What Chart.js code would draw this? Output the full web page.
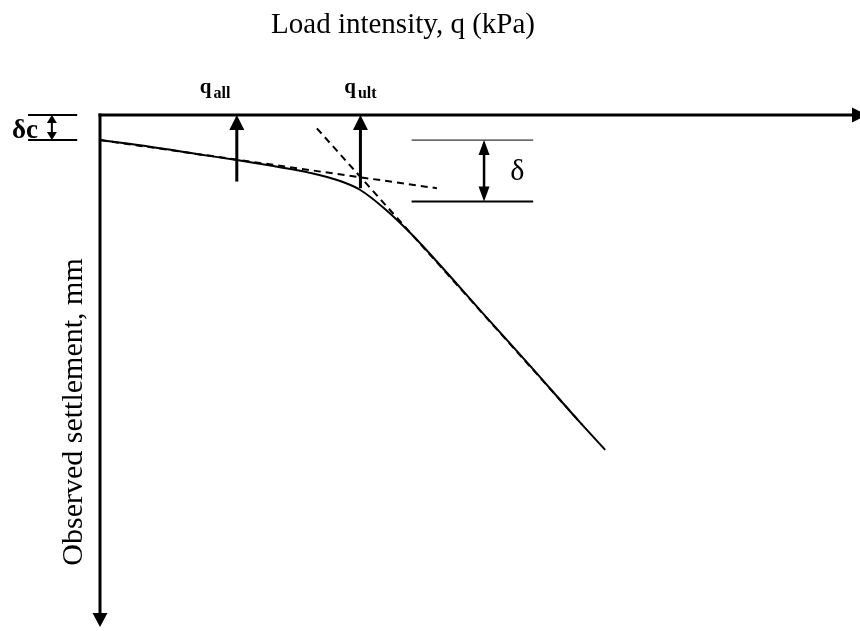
<!DOCTYPE html>
<html>
<head>
<meta charset="utf-8">
<title>Plate load test - settlement curve</title>
<script src="https://cdn.jsdelivr.net/npm/chart.js@4/dist/chart.umd.min.js"></script>
<style>
  html, body { margin: 0; padding: 0; background: #fff; }
  canvas { display: block; }
</style>
</head>
<body>
<canvas id="loadSettlement" width="860" height="631" style="width:860px;height:631px"></canvas>
<script>
// load-settlement curve (q in kPa, settlement in mm, schematic)
const loadQ = [0, 9.9, 19.7, 27.6, 35.5, 41.4, 47.4, 51.3, 56.3, 61.6, 67.1, 75.0, 84.9, 94.7, 99.7];
const settlement = [4.9, 6.2, 7.7, 8.9, 10.2, 11.3, 12.9, 14.6, 18.4, 23.4, 29.3, 38.1, 49.0, 60.0, 65.4];

// tangent to the initial part and to the final straight part
const initialTangentQ = [0, 66.5];
const initialTangentS = [4.9, 14.3];
const finalTangentQ = [42.8, 95.1];
const finalTangentS = [2.6, 60.4];

// q_all / q_ult markers: load and depth of arrow tail
const markerNames = ['all', 'ult'];
const markerQ = [27.0, 51.4];
const markerDepth = [13.0, 14.3];

// delta bracket (right) and delta-c bracket (left of the axis)
const deltaLevels = [4.9, 16.9];
const deltaSpanQ = [61.5, 85.5];
const deltaArrowQ = 75.8;
const deltaCLevels = [0, 4.9];
const deltaCSpanQ = [-14.2, -4.5];
const deltaCArrowQ = -9.5;

const toPoints = (xs, ys) => xs.map((x, i) => ({ x: x, y: ys[i] }));
const SERIF = "'Liberation Serif', 'Times New Roman', serif";

function arrowHead(ctx, x, y, dir, len, half) {
  // dir: 'up' | 'down' | 'right', tip at (x, y)
  ctx.beginPath();
  if (dir === 'up') {
    ctx.moveTo(x, y); ctx.lineTo(x - half, y + len); ctx.lineTo(x + half, y + len);
  } else if (dir === 'down') {
    ctx.moveTo(x, y); ctx.lineTo(x - half, y - len); ctx.lineTo(x + half, y - len);
  } else {
    ctx.moveTo(x, y); ctx.lineTo(x - len, y - half); ctx.lineTo(x - len, y + half);
  }
  ctx.closePath();
  ctx.fill();
}

function line(ctx, x1, y1, x2, y2, w) {
  ctx.lineWidth = w;
  ctx.beginPath();
  ctx.moveTo(x1, y1);
  ctx.lineTo(x2, y2);
  ctx.stroke();
}

const sketchPlugin = {
  id: 'sketch',
  afterDatasetsDraw(chart) {
    const ctx = chart.ctx;
    const xs = chart.scales.x, ys = chart.scales.y;
    const area = chart.chartArea;
    const x0 = xs.getPixelForValue(0), y0 = ys.getPixelForValue(0);
    ctx.save();
    ctx.fillStyle = '#000';
    ctx.strokeStyle = '#000';
    ctx.setLineDash([]);

    // axes with arrows
    line(ctx, x0 - 1.5, y0, area.right - 8, y0, 3);
    arrowHead(ctx, area.right + 7, y0, 'right', 15, 7.5);
    line(ctx, x0, y0 - 1.5, x0, area.bottom - 12, 3);
    arrowHead(ctx, x0, area.bottom, 'down', 14, 7.5);

    // q_all and q_ult arrows
    markerQ.forEach((q, i) => {
      const px = xs.getPixelForValue(q);
      line(ctx, px, ys.getPixelForValue(markerDepth[i]), px, y0 + 12, 3);
      arrowHead(ctx, px, y0, 'up', 15, 7.5);
      const qBase = y0 - 22;
      ctx.font = 'bold 21px ' + SERIF;
      const qw = ctx.measureText('q').width;
      ctx.font = 'bold 16px ' + SERIF;
      const sw = ctx.measureText(markerNames[i]).width;
      const total = qw + 2 + sw;
      const left = i === 0 ? px - 37 : px - total / 2;
      ctx.textAlign = 'left';
      ctx.textBaseline = 'alphabetic';
      ctx.font = 'bold 21px ' + SERIF;
      ctx.fillText('q', left, qBase);
      ctx.font = 'bold 16px ' + SERIF;
      ctx.fillText(markerNames[i], left + qw + 2, qBase + 5);
    });

    // delta bracket
    const dTop = ys.getPixelForValue(deltaLevels[0]);
    const dBot = ys.getPixelForValue(deltaLevels[1]);
    const dL = xs.getPixelForValue(deltaSpanQ[0]), dR = xs.getPixelForValue(deltaSpanQ[1]);
    line(ctx, dL, dTop, dR, dTop, 1);
    line(ctx, dL, dBot, dR, dBot, 2);
    const dx = xs.getPixelForValue(deltaArrowQ);
    line(ctx, dx, dTop + 12, dx, dBot - 12, 2.5);
    arrowHead(ctx, dx, dTop, 'up', 15, 5.5);
    arrowHead(ctx, dx, dBot, 'down', 15, 5.5);
    ctx.font = '30px ' + SERIF;
    ctx.textAlign = 'center';
    ctx.fillText('\u03b4', dR - 16, dTop + 40);

    // delta-c bracket
    const cTop = ys.getPixelForValue(deltaCLevels[0]);
    const cBot = ys.getPixelForValue(deltaCLevels[1]);
    const cL = xs.getPixelForValue(deltaCSpanQ[0]), cR = xs.getPixelForValue(deltaCSpanQ[1]);
    line(ctx, cL, cTop, cR, cTop, 2);
    line(ctx, cL, cBot, cR, cBot, 2);
    const cx = xs.getPixelForValue(deltaCArrowQ);
    line(ctx, cx, cTop + 6, cx, cBot - 6, 2);
    arrowHead(ctx, cx, cTop, 'up', 8, 5);
    arrowHead(ctx, cx, cBot, 'down', 8, 5);
    ctx.font = 'bold 27px ' + SERIF;
    ctx.textAlign = 'left';
    ctx.fillText('\u03b4c', 12, cBot - 2);

    // axis titles
    ctx.font = '29px ' + SERIF;
    ctx.textAlign = 'center';
    ctx.fillText('Load intensity, q (kPa)', 403, 33);
    ctx.save();
    ctx.translate(82, 412);
    ctx.rotate(-Math.PI / 2);
    ctx.font = '30px ' + SERIF;
    ctx.fillText('Observed settlement, mm', 0, 0);
    ctx.restore();

    ctx.restore();
  }
};

new Chart(document.getElementById('loadSettlement').getContext('2d'), {
  type: 'line',
  data: {
    datasets: [
      {
        label: 'Load-settlement curve',
        data: toPoints(loadQ, settlement),
        borderColor: '#000',
        borderWidth: 2,
        cubicInterpolationMode: 'monotone',
        pointRadius: 0,
        clip: false
      },
      {
        label: 'Initial tangent',
        data: toPoints(initialTangentQ, initialTangentS),
        borderColor: '#000',
        borderWidth: 2,
        borderDash: [7, 5],
        pointRadius: 0,
        clip: false
      },
      {
        label: 'Final tangent',
        data: toPoints(finalTangentQ, finalTangentS),
        borderColor: '#000',
        borderWidth: 2,
        borderDash: [7, 5],
        pointRadius: 0,
        clip: false
      }
    ]
  },
  options: {
    responsive: false,
    animation: false,
    layout: { padding: { left: 100, top: 115, right: 0, bottom: 4 } },
    plugins: {
      legend: { display: false },
      tooltip: { enabled: false }
    },
    scales: {
      x: { type: 'linear', min: 0, max: 150, display: false },
      y: { type: 'linear', min: 0, max: 100, reverse: true, display: false }
    }
  },
  plugins: [sketchPlugin]
});
</script>
</body>
</html>
